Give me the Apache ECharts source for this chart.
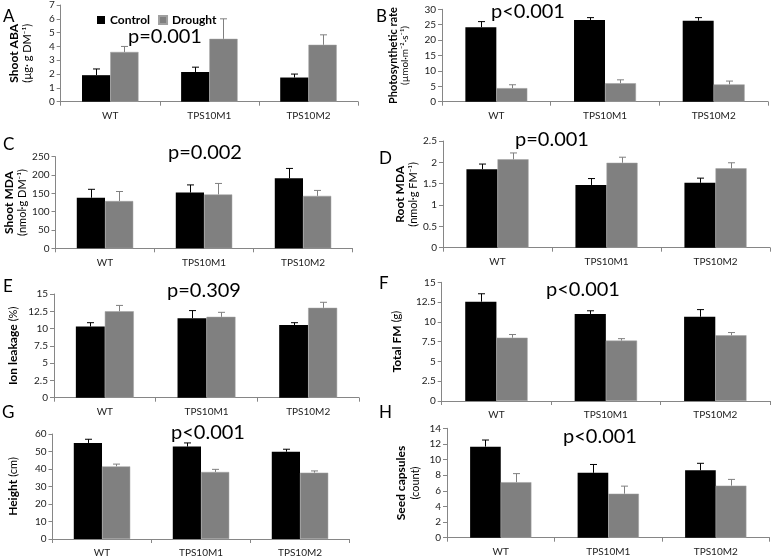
<!DOCTYPE html>
<html><head><meta charset="utf-8">
<script src="https://cdn.jsdelivr.net/npm/echarts@6/dist/echarts.min.js"></script>
<style>html,body{margin:0;padding:0;background:#fff}#c{width:772px;height:558px}</style>
</head><body><div id="c"></div>
<script>
// ---- data ----
const categories = ['WT', 'TPS10M1', 'TPS10M2'];

const abaControl = [1.92, 2.15, 1.75];
const abaControlErr = [0.45, 0.35, 0.25];
const abaDrought = [3.6, 4.55, 4.12];
const abaDroughtErr = [0.4, 1.45, 0.72];

const photoControl = [24.2, 26.5, 26.3];
const photoControlErr = [1.8, 0.8, 1.0];
const photoDrought = [4.4, 6.0, 5.6];
const photoDroughtErr = [1.1, 1.1, 1.1];

const shootMdaControl = [138, 152, 191];
const shootMdaControlErr = [23, 21, 27];
const shootMdaDrought = [129, 147, 143];
const shootMdaDroughtErr = [26, 30, 15];

const rootMdaControl = [1.84, 1.47, 1.52];
const rootMdaControlErr = [0.12, 0.15, 0.11];
const rootMdaDrought = [2.07, 1.99, 1.86];
const rootMdaDroughtErr = [0.15, 0.13, 0.13];

const ionControl = [10.3, 11.5, 10.5];
const ionControlErr = [0.55, 1.1, 0.35];
const ionDrought = [12.5, 11.7, 13.0];
const ionDroughtErr = [0.85, 0.65, 0.8];

const fmControl = [12.55, 11.0, 10.65];
const fmControlErr = [1.0, 0.4, 0.9];
const fmDrought = [8.0, 7.63, 8.3];
const fmDroughtErr = [0.4, 0.25, 0.35];

const heightControl = [54.9, 52.8, 49.9];
const heightControlErr = [2.1, 2.1, 1.4];
const heightDrought = [41.5, 38.3, 37.9];
const heightDroughtErr = [1.3, 1.5, 1.0];

const seedControl = [11.65, 8.3, 8.62];
const seedControlErr = [0.85, 1.07, 0.9];
const seedDrought = [7.1, 5.63, 6.66];
const seedDroughtErr = [1.1, 0.97, 0.8];

const pValues = ['p=0.001', 'p<0.001', 'p=0.002', 'p=0.001', 'p=0.309', 'p<0.001', 'p<0.001', 'p<0.001'];
const panelLetters = ['A', 'B', 'C', 'D', 'E', 'F', 'G', 'H'];

// ---- layout / panels ----
const FONT = 'Lato, "Open Sans", sans-serif';
const panels = [
  {grid:[60.7, 5, 297.3, 96.7], min:0, max:7, interval:1, title:'{b|Shoot ABA}\n{u|(µg· g DM⁻¹)}', gap:26,
   c:abaControl, ce:abaControlErr, d:abaDrought, de:abaDroughtErr, letter:[3,8], p:[165,37]},
  {grid:[442, 9.3, 326, 92.4], min:0, max:30, interval:5, title:'{bs|Photosynthetic rate}\n{us|(µmol·m⁻²·s⁻¹)}', gap:31,
   c:photoControl, ce:photoControlErr, d:photoDrought, de:photoDroughtErr, letter:[376,8], p:[528,12]},
  {grid:[55.5, 156.7, 297, 91.6], min:0, max:250, interval:50, title:'{b|Shoot MDA}\n{u|(nmol·g DM⁻¹)}', gap:24,
   c:shootMdaControl, ce:shootMdaControlErr, d:shootMdaDrought, de:shootMdaDroughtErr, letter:[3,136], p:[205,153]},
  {grid:[443, 141, 327, 106.7], min:0, max:2.5, interval:0.5, title:'{b|Root MDA}\n{u|(nmol·g FM⁻¹)}', gap:22,
   c:rootMdaControl, ce:rootMdaControlErr, d:rootMdaDrought, de:rootMdaDroughtErr, letter:[379,150], p:[552,140]},
  {grid:[54, 294, 305, 103.7], min:0, max:15, interval:2.5, title:'{b|Ion leakage} {u|(%)}', gap:34,
   c:ionControl, ce:ionControlErr, d:ionDrought, de:ionDroughtErr, letter:[3,278], p:[204,291]},
  {grid:[441.7, 282.3, 328.3, 118.7], min:0, max:15, interval:2.5, title:'{b|Total FM} {u|(g)}', gap:38,
   c:fmControl, ce:fmControlErr, d:fmDrought, de:fmDroughtErr, letter:[379,275], p:[583,290]},
  {grid:[52.5, 434, 297, 106], min:0, max:60, interval:10, title:'{b|Height} {u|(cm)}', gap:32,
   c:heightControl, ce:heightControlErr, d:heightDrought, de:heightDroughtErr, letter:[2,404], p:[208,433]},
  {grid:[447, 428.3, 322.5, 109.4], min:0, max:14, interval:2, title:'{b|Seed capsules}\n{u|(count)}', gap:25,
   c:seedControl, ce:seedControlErr, d:seedDrought, de:seedDroughtErr, letter:[379,404], p:[600,437]}
];

const BLACK = '#000000', GRAY = '#808080';
const GAP = 0.43;

function errRender(sign, color) {
  return function (params, api) {
    const i = api.value(0), v = api.value(1), e = api.value(2);
    const w = api.size([1, 0])[0];
    const off = sign * w * (1 - GAP) / 4;
    const base = api.coord([i, v]);
    const top = api.coord([i, v + e]);
    const x = Math.round(base[0] + off) + 0.5;
    const cap = 3.5;
    return {type: 'group', children: [
      {type: 'line', shape: {x1: x, y1: base[1], x2: x, y2: top[1]}, style: {stroke: color, lineWidth: 1}},
      {type: 'line', shape: {x1: x - cap, y1: top[1], x2: x + cap, y2: top[1]}, style: {stroke: color, lineWidth: 1}}
    ]};
  };
}

const grids = [], xAxes = [], yAxes = [], series = [], graphics = [];
panels.forEach((p, k) => {
  grids.push({left: p.grid[0], top: p.grid[1], width: p.grid[2], height: p.grid[3], containLabel: false});
  xAxes.push({
    type: 'category', gridIndex: k, data: categories,
    axisLine: {lineStyle: {color: '#868686', width: 1}},
    axisTick: {show: true, length: 4, lineStyle: {color: '#868686'}},
    axisLabel: {color: '#222', fontSize: 10, fontFamily: FONT, margin: 9}
  });
  yAxes.push({
    type: 'value', gridIndex: k, min: p.min, max: p.max, interval: p.interval,
    splitLine: {show: false},
    axisLine: {show: true, lineStyle: {color: '#868686', width: 1}},
    axisTick: {show: true, length: 4, lineStyle: {color: '#868686'}},
    axisLabel: {color: '#222', fontSize: 10, fontFamily: FONT, margin: 6},
    name: p.title, nameLocation: 'middle', nameRotate: 90, nameGap: p.gap,
    nameTextStyle: {
      color: '#000', fontFamily: FONT,
      rich: {
        b: {fontWeight: 'bold', fontSize: 12, fontFamily: FONT, color: '#000', lineHeight: 14},
        u: {fontSize: 11, fontFamily: FONT, color: '#000', lineHeight: 14},
        bs: {fontWeight: 'bold', fontSize: 11, fontFamily: FONT, color: '#000', lineHeight: 12},
        us: {fontSize: 10, fontFamily: FONT, color: '#000', lineHeight: 12}
      }
    }
  });
  series.push({
    name: 'Control', type: 'bar', xAxisIndex: k, yAxisIndex: k, data: p.c,
    barGap: '0%', barCategoryGap: (GAP * 100) + '%',
    itemStyle: {color: BLACK}
  });
  series.push({
    name: 'Drought', type: 'bar', xAxisIndex: k, yAxisIndex: k, data: p.d,
    barGap: '0%', barCategoryGap: (GAP * 100) + '%',
    itemStyle: {color: GRAY, borderColor: '#a0a0a0', borderWidth: 0.5}
  });
  series.push({
    type: 'custom', xAxisIndex: k, yAxisIndex: k, z: 3,
    data: p.c.map((v, i) => [i, v, p.ce[i]]),
    encode: {x: 0, y: [1, 2]},
    renderItem: errRender(-1, BLACK), silent: true
  });
  series.push({
    type: 'custom', xAxisIndex: k, yAxisIndex: k, z: 3,
    data: p.d.map((v, i) => [i, v, p.de[i]]),
    encode: {x: 0, y: [1, 2]},
    renderItem: errRender(1, GRAY), silent: true
  });
  graphics.push({
    type: 'text', left: p.letter[0], top: p.letter[1],
    style: {text: panelLetters[k], fontSize: 17, fontFamily: FONT, fill: '#000'}
  });
  graphics.push({
    type: 'text', x: p.p[0], y: p.p[1],
    style: {text: pValues[k], fontSize: 20, fontFamily: FONT, fill: '#000', align: 'center', verticalAlign: 'middle'}
  });
});

const chart = echarts.init(document.getElementById('c'), null, {renderer: 'canvas'});
chart.setOption({
  animation: false,
  backgroundColor: '#fff',
  grid: grids, xAxis: xAxes, yAxis: yAxes, series: series,
  legend: {
    data: ['Control', 'Drought'], left: 97, top: 14, padding: 0,
    icon: 'rect', itemWidth: 8, itemHeight: 8, itemGap: 8,
    textStyle: {fontWeight: 'bold', fontSize: 12, fontFamily: FONT, color: '#000'}
  },
  graphic: graphics
});
</script>
</body></html>
